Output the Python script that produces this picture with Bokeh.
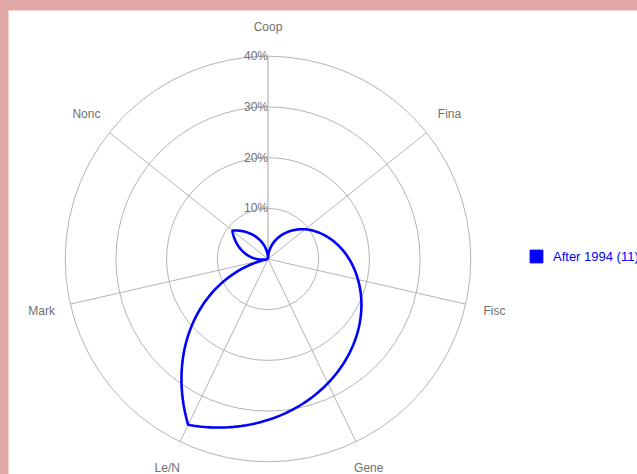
import numpy as np
from bokeh.plotting import figure
from bokeh.models import Range1d, Legend, LegendItem
from bokeh.core.properties import value
from bokeh.embed import file_html
from bokeh.resources import INLINE

# ---- data ----
categories = ["Coop", "Fina", "Fisc", "Gene", "Le/N", "Mark", "Nonc"]
after_1994 = [0.0, 9.4, 18.2, 27.2, 36.3, 0.0, 9.0]
ring_values = [10, 20, 30, 40]
ring_labels = ["10%", "20%", "30%", "40%"]
series_name = "After 1994 (11)"

# ---- layout ----
W, H = 629, 464
cx_px, cy_px = 259.5, 248.5      # centre in canvas px (from top-left)
px_per_unit = 5.07
FONT = "Liberation Sans"

x0 = -cx_px / px_per_unit
x1 = (W - cx_px) / px_per_unit
y1 = cy_px / px_per_unit
y0 = -(H - cy_px) / px_per_unit

p = figure(width=W, height=H, x_range=Range1d(x0, x1), y_range=Range1d(y0, y1),
           output_backend="svg", toolbar_location=None, min_border=0,
           x_axis_location=None, y_axis_location=None,
           background_fill_color="white", border_fill_color="white",
           outline_line_color=None)
p.grid.visible = False

n = len(categories)
theta = np.pi / 2 - np.arange(n) * 2 * np.pi / n
rmax = max(ring_values)

# rings
p.circle(x=[0] * len(ring_values), y=[0] * len(ring_values), radius=ring_values,
         fill_color=None, line_color="#b4b4b4", line_width=1)
# spokes
p.segment(x0=[0] * n, y0=[0] * n, x1=list(rmax * np.cos(theta)), y1=list(rmax * np.sin(theta)),
          line_color="#b4b4b4", line_width=1)
# radial axis (vertical)
p.segment(x0=[0], y0=[0], x1=[0], y1=[rmax], line_color="#d2d2d2", line_width=2)

# tick labels
p.text(x=[0] * len(ring_values), y=ring_values, text=ring_labels,
       text_align="right", text_baseline="middle", text_color="#707070",
       text_font=value(FONT), text_font_size="12px")

# category labels
lab_r = rmax * 1.145
p.text(x=list(lab_r * np.cos(theta)), y=list(lab_r * np.sin(theta)), text=categories,
       text_align="center", text_baseline="middle", text_color="#707070",
       text_font=value(FONT), text_font_size="12px")

# data curve (radius interpolated along angle between consecutive categories)
xs, ys = [], []
vals = after_1994 + [after_1994[0]]
angs = list(theta) + [theta[0] - 2 * np.pi]
for i in range(n):
    t = np.linspace(0, 1, 60)
    r = vals[i] + (vals[i + 1] - vals[i]) * t
    a = angs[i] + (angs[i + 1] - angs[i]) * t
    xs.extend(r * np.cos(a))
    ys.extend(r * np.sin(a))
p.line(x=xs, y=ys, line_color="#0000ff", line_width=2.6)

# legend (swatch renderer holds no drawable point)
swatch = p.rect(x=[np.nan], y=[np.nan], width=1, height=1,
                fill_color="#0000ff", line_color="#0000ff")
legend = Legend(items=[LegendItem(label=series_name, renderers=[swatch])],
                location=(520, 210), orientation="vertical",
                glyph_width=16, glyph_height=16, label_height=16,
                label_standoff=9, padding=0, margin=0, spacing=0,
                border_line_color=None, background_fill_alpha=0,
                label_text_color="#0000ff", label_text_font=FONT,
                label_text_font_size="13px")
p.add_layout(legend, "center")

html = file_html(p, INLINE)
style = ("<style>html,body{background:#e1a7a7 !important;}"
         "body{margin:10px 0 0 8px !important;overflow:hidden;}</style>")
html = html.replace("</head>", style + "</head>", 1)
open("out.html", "w").write(html)
